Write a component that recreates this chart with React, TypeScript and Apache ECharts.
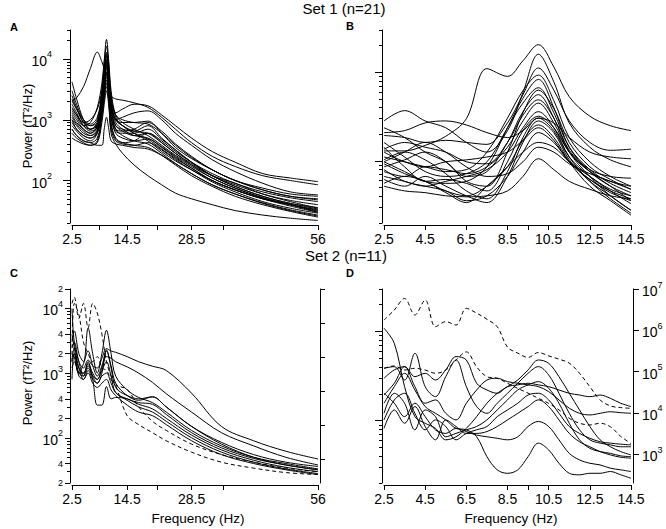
import React, { useEffect, useRef } from "react";
import * as echarts from "echarts";

const FONT = '"Liberation Sans", Arial, Helvetica, sans-serif';

// ---------- Panel A: Set 1, 2.5–56 Hz ----------
const A_FREQ = [2.5, 3.5, 5, 6.5, 8, 9, 9.5, 10, 10.5, 11, 12, 13.5, 16, 19, 22, 25, 28.5, 33, 38, 44, 50, 56];
const A_SERIES = [
  [2000, 1500, 900, 800, 1000, 3000, 9000, 21000, 9000, 3000, 1200, 900, 700, 550, 380, 260, 180, 120, 90, 60, 45, 35],
  [1400, 1100, 800, 900, 1600, 4000, 9000, 16000, 8000, 2500, 1100, 800, 600, 480, 330, 230, 160, 100, 70, 50, 38, 30],
  [2000, 2300, 3500, 7000, 13000, 9000, 7000, 6000, 3500, 1800, 1000, 800, 600, 450, 300, 210, 150, 100, 70, 50, 40, 32],
  [4200, 2200, 1000, 700, 900, 2500, 6000, 12000, 6000, 2000, 1300, 1500, 1800, 1700, 1200, 800, 500, 300, 200, 130, 110, 96],
  [1500, 1200, 900, 1000, 1500, 3000, 6000, 10000, 5500, 2500, 2200, 2100, 1900, 1600, 1100, 700, 420, 250, 170, 120, 100, 85],
  [1000, 800, 600, 550, 700, 1800, 4500, 9000, 5000, 1800, 1000, 900, 900, 950, 600, 350, 230, 150, 100, 75, 60, 55],
  [800, 650, 500, 450, 600, 1500, 3500, 7000, 4000, 1500, 800, 700, 650, 800, 500, 320, 200, 120, 80, 55, 42, 34],
  [1200, 900, 700, 600, 800, 2000, 4500, 8000, 4500, 1500, 700, 550, 450, 400, 280, 190, 130, 85, 60, 42, 32, 26],
  [900, 700, 550, 500, 650, 1600, 3200, 5500, 3000, 1100, 600, 500, 450, 480, 350, 240, 160, 100, 70, 50, 40, 33],
  [2500, 1600, 900, 700, 800, 1700, 3300, 6000, 3300, 1200, 700, 650, 700, 900, 650, 400, 250, 150, 100, 70, 55, 48],
  [700, 550, 450, 420, 500, 1200, 2500, 4500, 2500, 900, 500, 420, 380, 350, 260, 180, 120, 80, 55, 40, 31, 25],
  [1000, 700, 550, 500, 600, 1300, 2500, 4000, 2000, 600, 400, 280, 180, 120, 85, 62, 50, 40, 32, 27, 24, 22],
  [3000, 1800, 1000, 800, 900, 2200, 5000, 9500, 5000, 1800, 1000, 1100, 1300, 1400, 1000, 600, 380, 220, 140, 90, 65, 58],
  [600, 500, 420, 380, 420, 900, 1800, 3000, 1700, 700, 450, 400, 380, 420, 320, 220, 150, 95, 65, 45, 35, 29],
  [1800, 1300, 800, 650, 750, 1800, 4000, 7500, 4000, 1400, 800, 650, 550, 600, 420, 280, 180, 110, 75, 52, 40, 31],
  [700, 550, 450, 420, 380, 380, 700, 1100, 700, 450, 400, 380, 350, 330, 260, 190, 130, 85, 60, 43, 33, 27],
  [1300, 1000, 700, 600, 750, 2000, 5000, 11000, 5500, 1900, 1000, 800, 650, 600, 420, 280, 190, 120, 85, 60, 47, 40],
  [2200, 1500, 1000, 850, 1100, 2800, 6500, 13000, 6500, 2200, 1200, 1000, 900, 850, 600, 380, 240, 150, 100, 70, 55, 50],
  [1100, 850, 650, 550, 650, 1500, 3000, 5000, 2800, 1100, 650, 600, 600, 700, 480, 320, 200, 120, 80, 55, 42, 36],
  [1600, 1200, 800, 700, 850, 2000, 4500, 8500, 4500, 1600, 900, 700, 550, 500, 360, 250, 170, 110, 75, 52, 40, 30],
  [500, 450, 400, 380, 450, 1100, 2200, 3500, 2000, 800, 480, 420, 450, 600, 450, 300, 200, 130, 90, 65, 52, 45],
];

// ---------- Panel B: Set 1, 2.5–14.5 Hz ----------
const B_FREQ = [2.5, 3.5, 4.5, 5.5, 6.5, 7.5, 8.5, 9.25, 10, 10.75, 11.5, 12.5, 13.5, 14.5];
const B_SERIES = [
  [1300, 1300, 1500, 1900, 3000, 11000, 9000, 13500, 20500, 11500, 5300, 3200, 2500, 2200],
  [2830, 3700, 2830, 2370, 1620, 1260, 2200, 5900, 16000, 7800, 2690, 1430, 1030, 860],
  [1940, 1840, 1620, 1710, 1620, 1540, 2690, 5600, 11200, 6300, 2830, 1620, 1320, 1360],
  [1110, 980, 860, 760, 800, 1260, 3050, 6200, 9300, 4800, 1840, 980, 670, 520],
  [980, 760, 590, 560, 590, 860, 2370, 5100, 8300, 4000, 1430, 760, 520, 405],
  [1620, 1110, 760, 670, 720, 980, 2370, 4500, 6700, 3500, 1430, 800, 560, 440],
  [860, 1030, 1260, 980, 590, 520, 1260, 3500, 6300, 3900, 1620, 860, 620, 480],
  [2370, 1840, 1260, 980, 670, 760, 1620, 3600, 5600, 3050, 1260, 670, 405, 278],
  [760, 670, 860, 800, 720, 860, 1430, 2830, 4500, 2690, 1260, 760, 590, 520],
  [670, 590, 520, 590, 670, 800, 1260, 2370, 3600, 2370, 1110, 590, 375, 258],
  [1430, 860, 590, 620, 560, 460, 980, 2200, 3200, 2370, 1260, 760, 520, 357],
  [1030, 1260, 1030, 720, 460, 375, 760, 1840, 3050, 2200, 1110, 670, 460, 330],
  [620, 520, 670, 520, 405, 340, 670, 1620, 2830, 2090, 1030, 590, 405, 278],
  [930, 720, 590, 460, 405, 520, 860, 1710, 2550, 1840, 980, 520, 357, 245],
  [1260, 980, 860, 980, 1030, 1110, 1260, 1710, 2370, 1710, 980, 620, 460, 375],
  [800, 590, 520, 460, 357, 405, 670, 1260, 2090, 1620, 980, 620, 440, 357],
  [560, 670, 590, 440, 340, 520, 860, 1260, 1620, 1430, 980, 670, 480, 405],
  [520, 460, 440, 405, 395, 405, 460, 670, 1060, 800, 590, 480, 405, 375],
  [2090, 2200, 2690, 2830, 2550, 2090, 1840, 2200, 3050, 2690, 1840, 1260, 1110, 1060],
  [1360, 1620, 1430, 1260, 980, 930, 1620, 3290, 4900, 3050, 1320, 800, 670, 640],
  [980, 1260, 1620, 1260, 860, 670, 720, 980, 1430, 1260, 930, 720, 590, 480],
];

// ---------- Panel C: Set 2, 2.5–56 Hz ----------
const C_FREQ = [2.5, 3, 4, 5, 6, 7, 8, 9, 10, 11, 12, 14.5, 17, 20, 23, 28.5, 35, 42, 49, 56];
const C_SERIES = [
  [2500, 3000, 1500, 1200, 1600, 1300, 1200, 1700, 2400, 2200, 2100, 1800, 1500, 1280, 1100, 490, 150, 90, 62, 47],
  [1800, 2000, 1000, 900, 1200, 900, 800, 1200, 1800, 1700, 1500, 1250, 1000, 720, 480, 250, 120, 75, 50, 38],
  [3000, 4500, 2000, 1500, 5000, 2000, 1000, 2000, 4600, 2000, 900, 550, 420, 350, 250, 130, 75, 50, 40, 33],
  [1500, 2500, 1200, 1000, 1300, 800, 320, 320, 620, 400, 420, 400, 330, 280, 200, 110, 65, 45, 35, 30],
  [10000, 3000, 1500, 900, 1500, 900, 700, 1000, 2300, 1200, 600, 450, 400, 430, 300, 150, 80, 50, 38, 32],
  [2000, 1800, 900, 800, 1100, 800, 700, 900, 1000, 700, 500, 380, 300, 250, 180, 100, 60, 42, 33, 28],
  [1200, 1500, 1000, 1400, 2200, 1300, 900, 1300, 2200, 1300, 700, 450, 380, 430, 300, 150, 85, 55, 42, 36],
  [800, 2000, 1200, 800, 1000, 700, 600, 700, 800, 550, 450, 320, 250, 220, 160, 90, 55, 40, 32, 27],
  [4000, 2500, 1000, 1000, 1400, 1000, 800, 1100, 1500, 900, 500, 400, 350, 330, 230, 120, 70, 48, 38, 32],
];
const C_DASHED_SERIES = [
  [12000, 15000, 7000, 12000, 5000, 12000, 8500, 4000, 1500, 900, 650, 220, 160, 120, 90, 60, 42, 34, 29, 27],
  [1500, 12000, 8000, 3000, 2000, 1500, 1800, 1200, 1100, 800, 650, 560, 300, 180, 130, 80, 55, 42, 34, 30],
];

// ---------- Panel D: Set 2, 2.5–14.5 Hz ----------
const D_FREQ = [2.5, 3, 3.5, 4, 4.5, 5, 5.5, 6, 6.5, 7, 7.5, 8, 8.5, 9, 9.5, 10, 10.5, 11, 11.5, 12, 12.5, 13, 13.5, 14, 14.5];
const D_SERIES = [
  [10900, 7380, 2410, 1110, 935, 820, 610, 660, 820, 1110, 1570, 2030, 2410, 2860, 3710, 4800, 4400, 3120, 2030, 1320, 860, 610, 510, 450, 413],
  [3870, 4040, 2860, 5700, 2410, 1860, 3120, 4800, 2410, 1440, 1210, 1570, 2030, 2630, 3400, 4040, 3260, 2030, 1210, 790, 610, 560, 535, 510, 510],
  [2990, 3710, 4040, 3120, 3400, 2860, 3710, 5230, 4800, 2630, 2210, 2030, 2410, 2520, 2630, 2520, 2410, 2210, 2030, 1940, 1860, 1940, 1780, 1570, 1440],
  [1940, 2630, 4040, 2410, 1570, 1710, 1210, 1020, 1570, 2210, 2860, 2990, 2740, 2630, 2520, 2410, 2120, 1710, 1380, 1210, 1160, 1210, 1260, 1230, 1210],
  [1210, 2030, 1570, 790, 1320, 1110, 660, 720, 790, 860, 1020, 1320, 1710, 2210, 2520, 2740, 2310, 1570, 935, 610, 490, 450, 430, 403, 395],
  [1020, 1710, 2030, 1210, 790, 1020, 860, 610, 720, 790, 860, 1110, 1320, 1570, 1940, 2030, 1710, 1210, 860, 720, 635, 580, 560, 545, 535],
  [820, 1320, 935, 1440, 860, 610, 1020, 860, 720, 720, 755, 860, 1020, 1210, 1440, 1710, 1440, 1020, 720, 580, 510, 450, 413, 389, 380],
  [2030, 1570, 1110, 1570, 1110, 790, 720, 820, 755, 690, 660, 635, 610, 660, 860, 980, 860, 610, 430, 363, 333, 319, 293, 281, 269],
  [1570, 2410, 3400, 2210, 1440, 1210, 1020, 820, 790, 660, 395, 281, 257, 281, 395, 560, 470, 333, 257, 247, 257, 257, 269, 247, 226],
];
// dashed subjects, read against the labelled right-hand axis
const D_DASHED_SERIES = [
  [1.77e6, 3.1e6, 5.9e6, 2.35e6, 5.4e6, 1.22e6, 1.62e6, 1.34e6, 3.4e6, 2.6e6, 1.85e6, 1.22e6, 3.9e5, 2.8e5, 2.2e5, 2.9e5, 2.4e5, 2.0e5, 1.6e5, 9.1e4, 4.3e4, 2.05e4, 1.47e4, 1.34e4, 1.29e4],
  [1.2e5, 1.37e5, 1.09e5, 1.2e5, 1.09e5, 9.1e4, 1.09e5, 1.9e5, 3.0e5, 1.3e5, 7.5e4, 6.9e4, 5.2e4, 3.9e4, 3.0e4, 2.25e4, 1.7e4, 1.18e4, 7.4e3, 5.6e3, 5.1e3, 5.6e3, 4.6e3, 2.7e3, 1.8e3],
];

// ---------- Axes ----------
const WIDE_X_TICKS = [2.5, 8.5, 14.5, 21, 28.5, 35.5, 56];
const WIDE_X_LABELS = [2.5, 14.5, 28.5, 56];
const NARROW_X_TICKS = [2.5, 4.5, 6.5, 8.5, 9.5, 10.5, 12.5, 14.5];
const NARROW_X_LABELS = [2.5, 4.5, 6.5, 8.5, 10.5, 12.5, 14.5];
const A_Y_RANGE = [20, 30000];
const B_Y_RANGE = [200, 30000];
const C_Y_RANGE = [20, 20000];
const C_Y2_RANGE = [20, 1e7];
const D_Y_RANGE = [200, 30000];
const D_Y2_RANGE = [200, 1e7];
const A_Y_LABELS = [100, 1000, 10000];
const C_Y_LABELS = [20, 40, 100, 200, 400, 1000, 2000, 4000, 10000, 20000];
const D_Y2_LABELS = [1e3, 1e4, 1e5, 1e6, 1e7];

function decades(min: number, max: number, digits: number[]) {
  const out: number[] = [];
  for (let k = 0; k <= 8; k++) {
    for (const d of digits) {
      const v = d * Math.pow(10, k);
      if (v >= min * 0.9999 && v <= max * 1.0001) out.push(v);
    }
  }
  return out;
}

const rich = {
  b: { fontSize: 14, fontFamily: FONT, color: "#000", verticalAlign: "bottom" as const },
  s: { fontSize: 9, fontFamily: FONT, color: "#000", verticalAlign: "bottom" as const, padding: [0, 0, 9, 0] },
  m: { fontSize: 9, fontFamily: FONT, color: "#000" },
};

function fmtLog(v: number) {
  const e = Math.round(Math.log10(v));
  if (Math.abs(v - Math.pow(10, e)) < 1e-6 * v) return `{b|10}{s|${e}}`;
  const lead = Math.round(v / Math.pow(10, Math.floor(Math.log10(v) + 1e-9)));
  return `{m|${lead}}`;
}

function xAxis(grid: number, max: number, ticks: number[], labels: number[]) {
  return {
    type: "value",
    gridIndex: grid,
    min: 2.5,
    max,
    offset: 2,
    axisLine: { show: true, onZero: false, lineStyle: { color: "#000", width: 1 } },
    axisTick: { show: true, customValues: ticks, length: 5, lineStyle: { color: "#000", width: 1 } },
    axisLabel: {
      show: true,
      customValues: labels,
      formatter: (v: number) => String(v),
      fontSize: 14,
      fontFamily: FONT,
      color: "#000",
      margin: 7,
      hideOverlap: false,
    },
    splitLine: { show: false },
  };
}

function yAxis(
  grid: number,
  range: number[],
  ticks: number[],
  tickLen: number,
  opts: { position?: string; line?: boolean; labels?: number[]; margin?: number } = {}
) {
  return {
    type: "log",
    logBase: 10,
    gridIndex: grid,
    min: range[0],
    max: range[1],
    position: opts.position || "left",
    offset: 2,
    axisLine: { show: opts.line !== false, onZero: false, lineStyle: { color: "#000", width: 1 } },
    axisTick: { show: true, customValues: ticks, length: tickLen, lineStyle: { color: "#000", width: 1 } },
    axisLabel: opts.labels
      ? {
          show: true,
          customValues: opts.labels,
          formatter: fmtLog,
          rich,
          margin: opts.margin ?? 8,
          hideOverlap: false,
        }
      : { show: false },
    splitLine: { show: false },
    minorTick: { show: false },
  };
}

function lineSeries(freq: number[], rows: number[][], xi: number, yi: number, dashed: boolean) {
  return rows.map((row, i) => ({
    type: "line",
    name: `${xi}-${dashed ? "d" : "s"}-${i}`,
    xAxisIndex: xi,
    yAxisIndex: yi,
    data: freq.map((f, j) => [f, row[j]]),
    showSymbol: false,
    smooth: 0.35,
    silent: true,
    lineStyle: { color: "#000", width: 1, type: dashed ? [4, 3] : "solid" },
  }));
}

const MAJ = [1];
const MIN = [2, 3, 4, 5, 6, 7, 8, 9];

const option = {
  animation: false,
  backgroundColor: "#fff",
  grid: [
    { left: 72, top: 30, width: 246, height: 193, outerBoundsMode: "none" },
    { left: 384, top: 30, width: 247, height: 193, outerBoundsMode: "none" },
    { left: 72, top: 289, width: 246, height: 194, outerBoundsMode: "none" },
    { left: 384, top: 289, width: 247, height: 194, outerBoundsMode: "none" },
  ],
  xAxis: [
    xAxis(0, 56, WIDE_X_TICKS, WIDE_X_LABELS),
    xAxis(1, 14.5, NARROW_X_TICKS, NARROW_X_LABELS),
    xAxis(2, 56, WIDE_X_TICKS, WIDE_X_LABELS),
    xAxis(3, 14.5, NARROW_X_TICKS, NARROW_X_LABELS),
  ],
  yAxis: [
    // 0,1: panel A
    yAxis(0, A_Y_RANGE, decades(A_Y_RANGE[0], A_Y_RANGE[1], MAJ), 7, { labels: A_Y_LABELS, margin: 18 }),
    yAxis(0, A_Y_RANGE, decades(A_Y_RANGE[0], A_Y_RANGE[1], MIN), 3, { line: false }),
    // 2,3: panel B
    yAxis(1, B_Y_RANGE, decades(B_Y_RANGE[0], B_Y_RANGE[1], MAJ), 7),
    yAxis(1, B_Y_RANGE, decades(B_Y_RANGE[0], B_Y_RANGE[1], MIN), 3, { line: false }),
    // 4,5,6: panel C
    yAxis(2, C_Y_RANGE, C_Y_LABELS, 5, { labels: C_Y_LABELS, margin: 7 }),
    yAxis(2, C_Y_RANGE, decades(C_Y_RANGE[0], C_Y_RANGE[1], [3, 5, 6, 7, 8, 9]), 3, { line: false }),
    yAxis(2, C_Y2_RANGE, decades(100, 1e7, MAJ), 5, { position: "right" }),
    // 7,8,9: panel D
    yAxis(3, D_Y_RANGE, decades(D_Y_RANGE[0], D_Y_RANGE[1], MAJ), 7),
    yAxis(3, D_Y_RANGE, decades(D_Y_RANGE[0], D_Y_RANGE[1], MIN), 3, { line: false }),
    yAxis(3, D_Y2_RANGE, D_Y2_LABELS, 6, { position: "right", labels: D_Y2_LABELS, margin: 9 }),
  ],
  series: [
    ...lineSeries(A_FREQ, A_SERIES, 0, 0, false),
    ...lineSeries(B_FREQ, B_SERIES, 1, 2, false),
    ...lineSeries(C_FREQ, C_SERIES, 2, 4, false),
    ...lineSeries(C_FREQ, C_DASHED_SERIES, 2, 4, true),
    ...lineSeries(D_FREQ, D_SERIES, 3, 7, false),
    ...lineSeries(D_FREQ, D_DASHED_SERIES, 3, 9, true),
  ],
  graphic: [
    { type: "text", x: 344, y: 8, style: { text: "Set 1 (n=21)", font: `15px ${FONT}`, fill: "#000", align: "center", verticalAlign: "middle" } },
    { type: "text", x: 346, y: 255, style: { text: "Set 2 (n=11)", font: `15px ${FONT}`, fill: "#000", align: "center", verticalAlign: "middle" } },
    { type: "text", x: 14, y: 27, style: { text: "A", font: `bold 11px ${FONT}`, fill: "#000", align: "center", verticalAlign: "middle" } },
    { type: "text", x: 350, y: 26, style: { text: "B", font: `bold 11px ${FONT}`, fill: "#000", align: "center", verticalAlign: "middle" } },
    { type: "text", x: 14, y: 273, style: { text: "C", font: `bold 11px ${FONT}`, fill: "#000", align: "center", verticalAlign: "middle" } },
    { type: "text", x: 350, y: 273, style: { text: "D", font: `bold 11px ${FONT}`, fill: "#000", align: "center", verticalAlign: "middle" } },
    { type: "text", x: 27, y: 126, rotation: Math.PI / 2, style: { text: "Power (fT²/Hz)", font: `13px ${FONT}`, fill: "#000", align: "center", verticalAlign: "middle" } },
    { type: "text", x: 27, y: 383, rotation: Math.PI / 2, style: { text: "Power (fT²/Hz)", font: `13px ${FONT}`, fill: "#000", align: "center", verticalAlign: "middle" } },
    { type: "text", x: 198, y: 518, style: { text: "Frequency (Hz)", font: `13.5px ${FONT}`, fill: "#000", align: "center", verticalAlign: "middle" } },
    { type: "text", x: 511, y: 518, style: { text: "Frequency (Hz)", font: `13.5px ${FONT}`, fill: "#000", align: "center", verticalAlign: "middle" } },
  ],
};

export default function App() {
  const ref = useRef<HTMLDivElement>(null);
  useEffect(() => {
    if (!ref.current) return;
    const chart = echarts.init(ref.current, null, { renderer: "svg" });
    chart.setOption(option as any);
    return () => chart.dispose();
  }, []);
  return (
    <div
      ref={ref}
      style={{ position: "fixed", left: 0, top: 0, width: 666, height: 529, background: "#fff" }}
    />
  );
}
